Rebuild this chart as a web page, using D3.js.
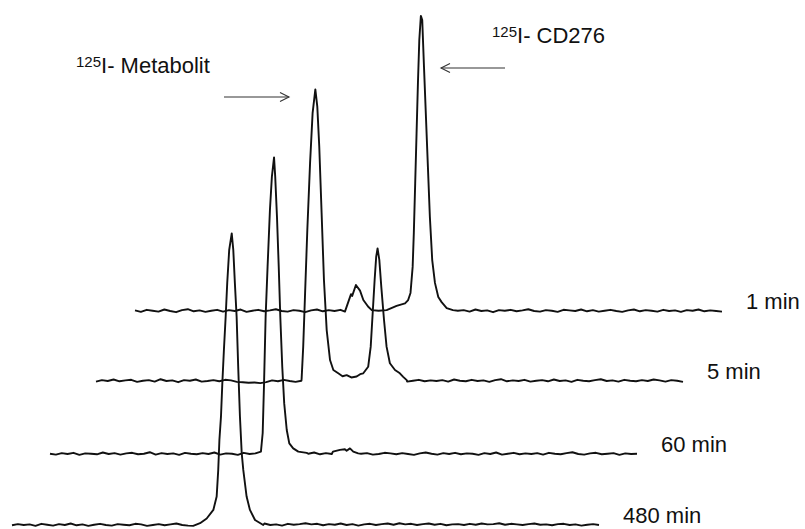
<!DOCTYPE html>
<html>
<head>
<meta charset="utf-8">
<script src="https://cdn.jsdelivr.net/npm/d3@7"></script>
<style>
  body { margin: 0; background: #fff; }
  svg { display: block; }
  text { font-family: "Liberation Sans", Arial, sans-serif; fill: #111; }
</style>
</head>
<body>
<div id="chart"></div>
<script>
// radio-HPLC traces, waterfall style. x = channel (0..300), y = relative counts (0..100)
var labels = ['1 min', '5 min', '60 min', '480 min'];
var noiseStep = 3;

// baseline readings every 3 channels
var noise1 = [0.2, -0.3, 0.4, 0.1, -0.2, 0.5, 0.0, -0.4, 0.3, 0.6, -0.1, 0.2, -0.3, 0.1, 0.4, -0.2, 0.3, 0.0, 0.5, -0.3,
  0.1, 0.4, -0.1, 0.2, 0.6, 0.0, -0.2, 0.3, 0.1, -0.4, 0.2, 0.5, -0.1, 0.3, 0.0, 0.4, -0.2, 0.1, 0.3, 0.7,
  -0.1, 0.2, 0.0, 0.4, -0.3, 0.2, 0.5, 0.1, -0.2, 0.3, 0.0, -0.1, 0.4, 0.2, -0.3, 0.1, 0.3, -0.2, 0.5, 0.0,
  0.2, -0.4, 0.3, 0.1, 0.4, -0.1, 0.2, 0.6, 0.0, -0.2, 0.3, 0.1, -0.3, 0.4, 0.2, 0.0, 0.5, -0.1, 0.3, -0.2,
  0.1, 0.4, 0.0, -0.3, 0.2, 0.5, -0.1, 0.3, 0.1, -0.2, 0.4, 0.0, 0.2, -0.3, 0.3, 0.1, 0.5, -0.1, 0.2, 0.0, -0.2];
var noise2 = [-0.2, 0.3, 0.0, 0.5, -0.1, 0.2, 0.4, -0.3, 0.1, 0.3, -0.2, 0.6, 0.0, 0.2, -0.4, 0.3, 0.1, 0.5, -0.2, 0.0,
  0.3, -0.1, 0.4, 0.2, -0.3, -0.4, -0.6, -0.5, -0.7, -0.4, 0.2, -0.1, 0.4, 0.0, -0.3, 0.1, 0.2, -0.1, 0.3, 0.0,
  0.2, 0.1, -0.2, 0.3, 0.0, 0.4, -0.1, 0.2, 0.1, -0.3, 0.3, 0.0, 0.5, -0.2, 0.1, 0.4, -0.1, 0.2, 0.0, 0.3,
  -0.2, 0.5, 0.1, -0.1, 0.4, 0.0, 0.2, -0.3, 0.3, 0.6, -0.1, 0.2, 0.0, 0.4, -0.2, 0.1, 0.3, -0.1, 0.5, 0.0,
  0.2, -0.3, 0.4, 0.1, -0.1, 0.3, 0.6, 0.0, 0.2, -0.2, 0.4, 0.1, -0.1, 0.3, 0.0, 0.5, 0.2, -0.2, 0.3, 0.1, -0.3];
var noise3 = [0.1, -0.2, 0.3, 0.0, 0.4, -0.3, 0.2, 0.1, -0.1, 0.5, 0.0, 0.3, -0.2, 0.2, 0.4, -0.1, 0.1, 0.6, -0.2, 0.3,
  0.0, 0.2, -0.3, 0.4, 0.1, -0.1, 0.3, 0.0, 0.5, -0.2, 0.2, 0.1, -0.3, 0.4, 0.0, 0.2, -0.1, 0.3, 0.1, -0.2,
  0.4, 0.0, 0.2, -0.3, 0.1, 0.5, -0.1, 0.3, 0.0, -0.2, 0.2, 0.4, -0.1, 0.1, 0.3, -0.2, 0.0, 0.4, 0.2, -0.1,
  0.3, 0.0, -0.3, 0.2, 0.5, 0.1, -0.2, 0.3, 0.0, 0.4, -0.1, 0.2, 0.1, -0.3, 0.3, 0.0, 0.5, -0.2, 0.1, 0.4,
  -0.1, 0.2, 0.0, 0.3, -0.2, 0.4, 0.1, -0.1, 0.3, 0.6, 0.0, -0.2, 0.2, 0.4, -0.1, 0.1, 0.3, -0.3, 0.2, 0.0, 0.1];
var noise4 = [-0.1, 0.3, 0.0, 0.2, -0.3, 0.4, 0.1, -0.2, 0.3, 0.0, 0.5, -0.1, 0.2, -0.3, 0.1, 0.4, 0.0, -0.2, 0.3, 0.1,
  -0.1, 0.4, 0.2, -0.3, 0.0, 0.3, -0.1, 0.2, 0.5, 0.0, -0.2, 0.1, 0.3, -0.1, 0.0, 0.2, -0.3, 0.1, 0.4, 0.0,
  0.2, -0.1, 0.3, 0.5, 0.0, 0.2, -0.2, 0.4, 0.1, 0.3, 0.6, 0.2, 0.4, -0.1, 0.3, 0.1, 0.5, 0.0, 0.3, -0.2,
  0.2, 0.4, 0.0, 0.3, 0.5, 0.1, 0.6, 0.2, 0.4, 0.0, 0.3, 0.5, 0.1, 0.4, -0.1, 0.2, 0.3, 0.0, 0.4, 0.1,
  0.5, 0.2, 0.3, 0.6, 0.1, 0.4, 0.2, 0.0, 0.3, 0.5, 0.1, 0.2, -0.1, 0.3, 0.4, 0.0, 0.2, -0.2, 0.1, 0.3, 0.0];

// peak regions [channel, counts]
var peaks1 = [[
  [107.3, -0.2], [110.4, 5.7], [111.0, 5.1], [112.9, 8.8], [115.0, 6.9], [116.7, 3.7], [119.1, 1.5], [121.0, 0.3],
  [124.5, 0.1], [128.6, 0.3], [133.7, 1.7], [138.0, 2.6], [139.6, 3.7], [140.8, 6.1], [141.9, 14.9], [142.5, 26.4],
  [143.2, 43.2], [143.9, 60.1], [144.6, 77.0], [145.3, 91.6], [146.1, 99.7], [146.8, 98.3], [147.7, 82.4],
  [148.7, 65.5], [149.7, 48.6], [150.7, 31.8], [151.9, 17.2], [153.3, 9.5], [155.0, 4.7], [156.7, 3.0],
  [159.3, 1.0], [162.5, 0.3]
]];
var peaks2 = [[
  [105.1, 0.9], [105.9, 11.6], [106.8, 28.5], [108.0, 51.0], [109.4, 73.6], [110.7, 90.5], [112.1, 98.5],
  [113.1, 92.7], [114.1, 79.2], [115.3, 56.8], [116.5, 34.1], [117.9, 17.2], [119.6, 7.1], [121.3, 3.7],
  [123.8, 2.6], [126.0, 1.6], [128.1, 2.0], [130.5, 1.2], [133.2, 1.5], [135.0, 2.3], [136.6, 2.6], [139.1, 4.8],
  [140.4, 11.6], [141.4, 22.9], [142.4, 34.1], [143.2, 42.0], [143.9, 44.8], [144.8, 40.9], [145.8, 31.9],
  [147.2, 20.6], [148.5, 11.6], [150.2, 6.0], [152.8, 3.7], [155.3, 2.6], [157.0, 1.4], [158.8, 0.3]
]];
var peaks3 = [[
  [107.8, 0.8], [108.7, 7.1], [109.4, 24.0], [110.2, 46.4], [111.2, 63.3], [112.4, 82.4], [113.4, 93.7],
  [114.5, 100.2], [115.1, 93.7], [116.0, 80.2], [116.9, 63.3], [117.7, 46.4], [118.7, 29.5], [119.7, 17.1],
  [121.0, 8.1], [122.3, 3.6], [124.3, 1.9], [126.9, 0.8], [131.2, 0.4]
], [
  [144.6, 0.8], [148.2, 1.4], [150.7, 1.6], [151.6, 1.1], [153.3, 1.9], [155.0, 0.8], [157.5, 0.2]
]];
var peaks4 = [[
  [92.6, -0.3], [96.1, 0.6], [99.5, 2.2], [102.9, 5.1], [104.6, 9.6], [105.4, 18.6], [106.0, 28.7],
  [106.8, 36.6], [107.5, 48.0], [108.3, 59.1], [109.2, 70.4], [110.0, 81.8], [111.0, 92.9], [112.3, 98.5],
  [113.1, 92.9], [113.9, 81.8], [114.8, 70.4], [115.6, 53.5], [116.5, 36.6], [117.4, 24.3], [118.2, 18.6],
  [119.9, 9.6], [121.6, 5.1], [124.2, 1.7], [128.4, 0.0]
]];

var noises = [noise1, noise2, noise3, noise4];
var peakSets = [peaks1, peaks2, peaks3, peaks4];

// layout: where each trace's baseline starts (waterfall offset)
var origins = [[135, 311], [96, 381], [50, 454], [12, 525]];
var width = 805, height = 529;
var plotW = 587, plotH = 296;

var x = d3.scaleLinear().domain([0, 300]).range([0, plotW]);
var y = d3.scaleLinear().domain([0, 100]).range([plotH, 0]);

var line = d3.line()
    .x(function (d) { return x(d[0]); })
    .y(function (d) { return y(d[1]); });

function buildTrace(noise, peaks) {
    var pts = [];
    noise.forEach(function (v, i) {
        var ch = i * noiseStep;
        var inside = peaks.some(function (p) {
            return ch >= p[0][0] && ch <= p[p.length - 1][0];
        });
        if (!inside) pts.push([ch, v]);
    });
    peaks.forEach(function (p) { pts = pts.concat(p); });
    pts.sort(function (a, b) { return a[0] - b[0]; });
    return pts;
}

var svg = d3.select('#chart').append('svg')
    .attr('width', width)
    .attr('height', height);

noises.forEach(function (noise, i) {
    var data = buildTrace(noise, peakSets[i]);
    var g = svg.append('g')
        .attr('transform', 'translate(' + origins[i][0] + ',' + (origins[i][1] - plotH) + ')');
    g.append('path')
        .datum(data)
        .attr('d', line)
        .attr('fill', 'none')
        .attr('stroke', '#111')
        .attr('stroke-width', 1.9)
        .attr('stroke-linejoin', 'round');
    g.append('text')
        .attr('x', x(300) + 24)
        .attr('y', y(0) - 2)
        .attr('font-size', 22)
        .text(labels[i]);
});

// annotations
function label(xp, yp, text) {
    var t = svg.append('text').attr('x', xp).attr('y', yp);
    t.append('tspan').attr('font-size', 15).attr('dy', -6).text('125');
    t.append('tspan').attr('font-size', 22).attr('dy', 6).text(text);
}
label(76, 73, 'I- Metabolit');
label(492, 43, 'I- CD276');

function arrow(x1, x2, yp) {
    var dir = x2 > x1 ? -1 : 1;
    svg.append('line')
        .attr('x1', x1).attr('x2', x2).attr('y1', yp).attr('y2', yp)
        .attr('stroke', '#333').attr('stroke-width', 1.1);
    svg.append('path')
        .attr('d', 'M' + (x2 + dir * 9) + ',' + (yp - 4.5) + 'L' + x2 + ',' + yp + 'L' + (x2 + dir * 9) + ',' + (yp + 4.5))
        .attr('fill', 'none').attr('stroke', '#333').attr('stroke-width', 1.1);
}
arrow(224, 289, 97);
arrow(505, 441, 68);
</script>
</body>
</html>
